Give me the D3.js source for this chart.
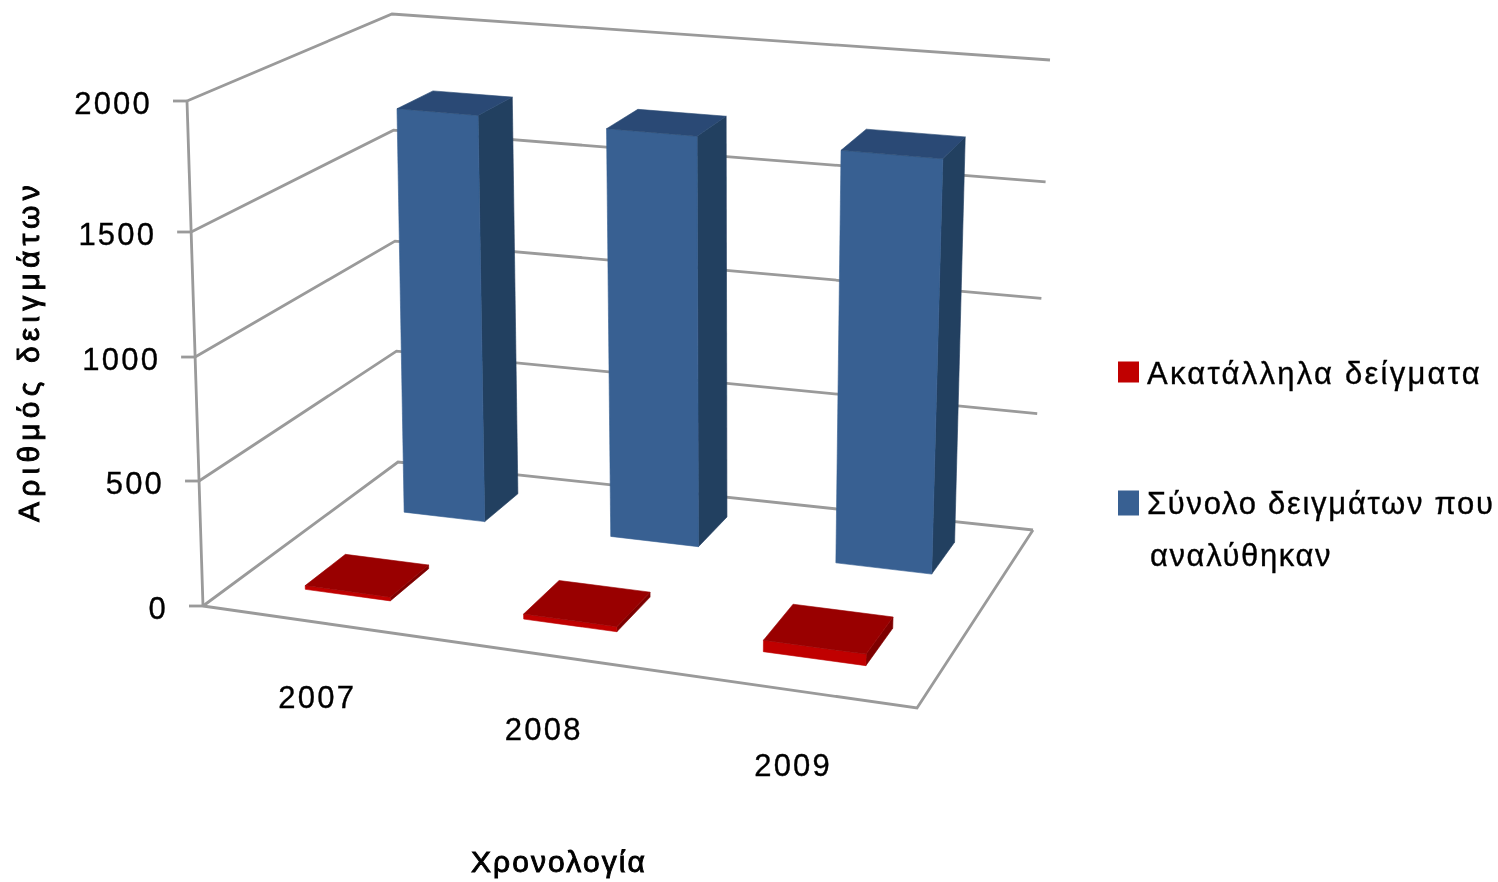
<!DOCTYPE html>
<html><head><meta charset="utf-8">
<script src="https://cdn.jsdelivr.net/npm/d3@7"></script>
<style>html,body{margin:0;padding:0;background:#fff;overflow:hidden}svg{display:block}
text{font-family:"Liberation Sans",Arial,sans-serif;fill:#000}</style></head><body>
<svg id="c" width="1498" height="882"></svg>
<script>
const categories = ["2007","2008","2009"];
const totalSamples = [1735,1725,1717];
const unsuitableSamples = [15,20,45];
const yTicks = [0,500,1000,1500,2000];
const legendLabels = [["Ακατάλληλα δείγματα"],["Σύνολο δειγμάτων που","αναλύθηκαν"]];
const yTitle = "Αριθμός δειγμάτων";
const xTitle = "Χρονολογία";
const depthSeries = ["unsuitable","total"];

const floorCorners = [[203,606],[917,708],[1033,530],[398,462]];
const ceilCorners  = [[187,101],[938,176],[1050,60],[392,14]];
function homography(q){
  const [[x0,y0],[x1,y1],[x2,y2],[x3,y3]] = q;
  const dx1=x1-x2,dx2=x3-x2,sx=x0-x1+x2-x3,dy1=y1-y2,dy2=y3-y2,sy=y0-y1+y2-y3;
  const den=dx1*dy2-dx2*dy1, g=(sx*dy2-dx2*sy)/den, h=(dx1*sy-sx*dy1)/den;
  const a=x1-x0+g*x1,b=x3-x0+h*x3,d=y1-y0+g*y1,e=y3-y0+h*y3;
  return (u,w)=>{const t=g*u+h*w+1;return [(a*u+b*w+x0)/t,(d*u+e*w+y0)/t];};
}
const hF=homography(floorCorners), hC=homography(ceilCorners);
const xBand=d3.scaleBand().domain(categories).range([0.009,1.009]).paddingInner(0.6).paddingOuter(0.3);
const yScale=d3.scaleLinear().domain(yTicks).range([0,0.2475,0.493,0.7406,1]);
const zBand=d3.scaleBand().domain(depthSeries).range([0.16,0.874]).paddingInner(0.611).paddingOuter(0);
const P=(u,v,w)=>{const a=hF(u,w),b=hC(u,w);const t=yScale(v);return [a[0]+(b[0]-a[0])*t,a[1]+(b[1]-a[1])*t];};
const line=d3.line();
const svg=d3.select("#c");
const defs=svg.append("defs");
defs.append("filter").attr("id","soft").attr("filterUnits","userSpaceOnUse")
  .attr("x",0).attr("y",0).attr("width",1498).attr("height",882)
  .append("feGaussianBlur").attr("stdDeviation",0.7);
const g=svg.append("g").attr("filter","url(#soft)");
const gridColor="#9a9a9a";
function seg(pts){g.append("path").attr("d",line(pts)).attr("fill","none").attr("stroke",gridColor).attr("stroke-width",2.8);}
yTicks.forEach(v=>{
  const a=P(0,v,0),b=P(0,v,1),c=P(1,v,1);
  seg([a,b,c]);
  seg([[a[0]-14,a[1]],a]);
});
seg([P(0,0,0),P(0,2000,0)]);
seg([P(0,0,0),P(1,0,0),P(1,0,1)]);
function box(u0,u1,w0,w1,v,cols){
  const poly=(pts,f)=>g.append("path").attr("d",line(pts)+"Z").attr("fill",f).attr("stroke",f).attr("stroke-width",.6);
  poly([P(u1,0,w0),P(u1,0,w1),P(u1,v,w1),P(u1,v,w0)],cols.side);
  poly([P(u0,0,w0),P(u1,0,w0),P(u1,v,w0),P(u0,v,w0)],cols.front);
  poly([P(u0,v,w0),P(u1,v,w0),P(u1,v,w1),P(u0,v,w1)],cols.top);
}
const blue={front:"#376092",side:"#233f60",top:"#2a4a74"}, red={front:"#c00000",side:"#7e0000",top:"#990000"};
function series(vals,key,cols){
  categories.forEach((c,i)=>{
    const u0=xBand(c),u1=u0+xBand.bandwidth(),w0=zBand(key),w1=w0+zBand.bandwidth();
    box(u0,u1,w0,w1,vals[i],cols);
  });
}
series(totalSamples,"total",blue);
series(unsuitableSamples,"unsuitable",red);
const txt=(x,y,s,size,anchor,extra)=>g.append("text").attr("x",x).attr("y",y).attr("font-size",size).attr("text-anchor",anchor||"start").attr("dominant-baseline","middle").attr("letter-spacing",extra||0).attr("stroke","#000").attr("stroke-width",0.35).text(s);
yTicks.forEach(v=>{const a=P(0,v,0);txt(a[0]-35,a[1]+4.5,v,31,"end",2.2);});
categories.forEach((c,i)=>{
  const u=xBand(c)+xBand.bandwidth()/2,a=P(u,0,0);
  txt(a[0]+3,a[1]+78,c,31,"middle",2.2);
});
txt(559,864,xTitle,30,"middle",2.1).attr("stroke-width",0.9);
txt(0,0,yTitle,30,"middle",5.2).attr("stroke-width",0.9).attr("transform","translate(31,351) rotate(-90)");
const legendColors=["#c00000","#376092"];
const legendRows=[[372],[503,556]];
const legendSpacing=[[2.25],[1.7,1.6]];
legendLabels.forEach((rows,i)=>{
  const sz=i?25:21, y0=legendRows[i][0];
  g.append("rect").attr("x",1118).attr("y",y0-sz/2).attr("width",21).attr("height",sz).attr("fill",legendColors[i]);
  rows.forEach((r,j)=>txt(1147+(j?3:0),legendRows[i][j]+(j?2:i?3:4),r,31,"start",legendSpacing[i][j]));
});
</script></body></html>
